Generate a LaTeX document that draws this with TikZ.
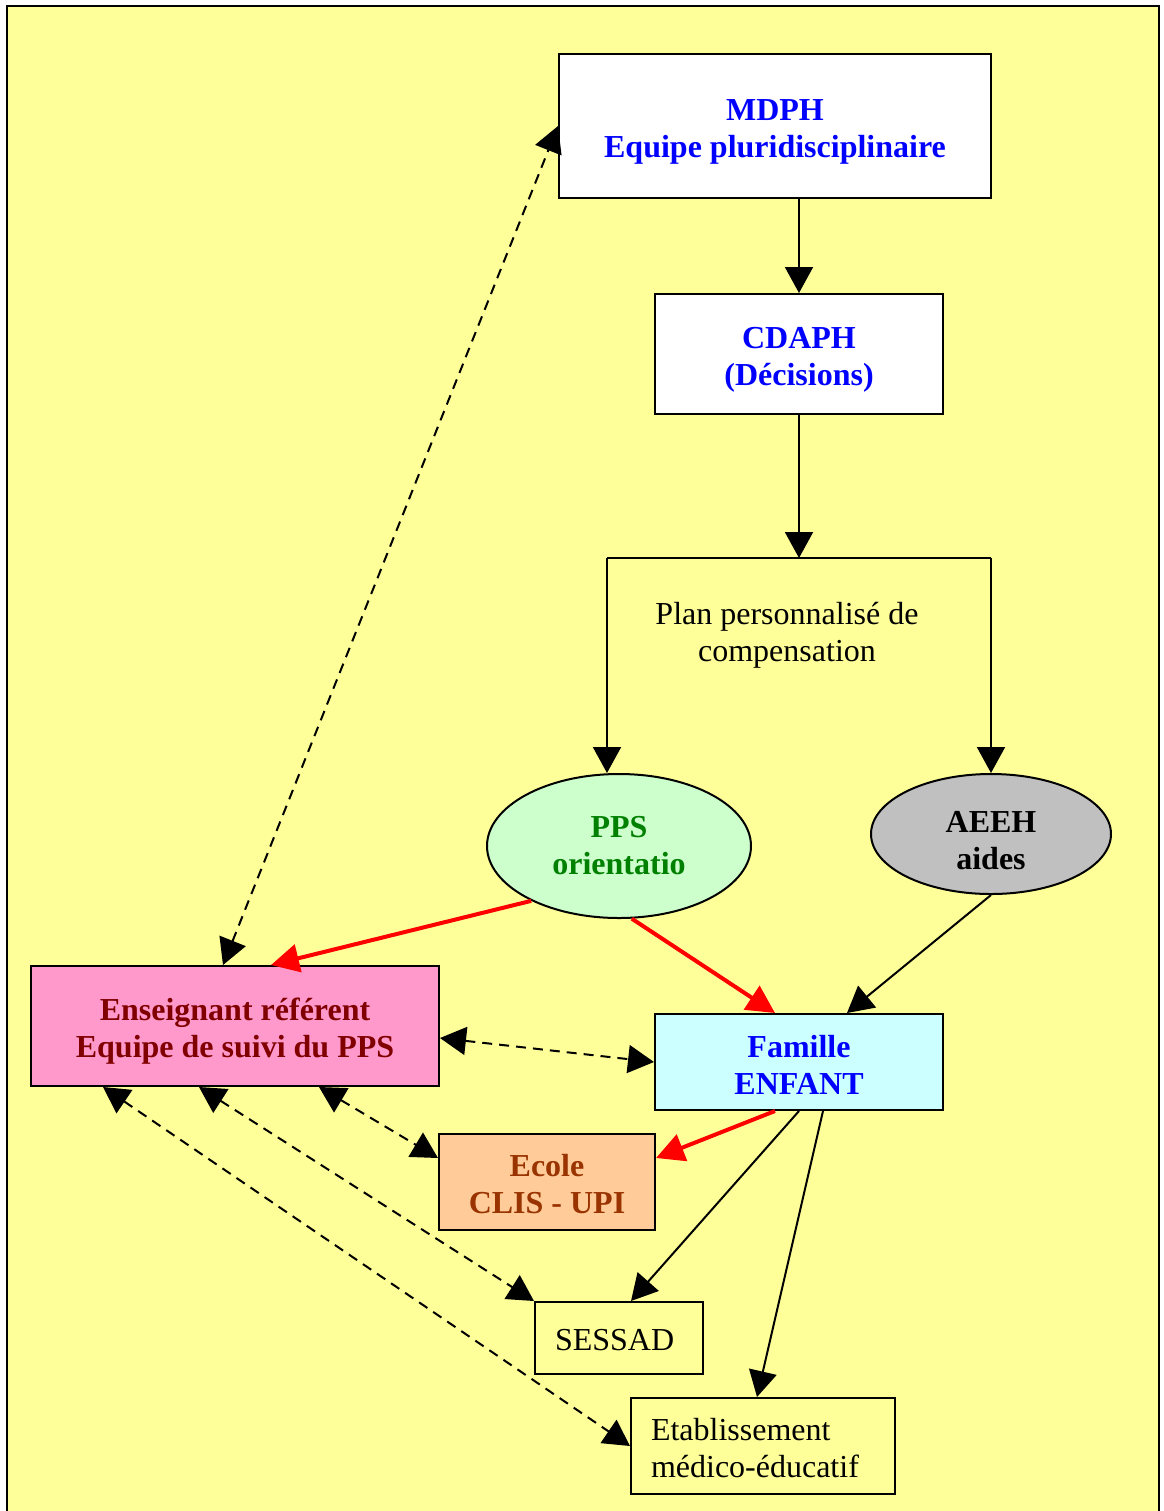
\documentclass[tikz,border=0pt]{standalone}
\usepackage{fontspec}
\setmainfont{Liberation Serif}
\usetikzlibrary{arrows.meta,shapes.geometric}
\definecolor{fond}{HTML}{FFFF99}
\definecolor{rose}{HTML}{FF99CC}
\definecolor{cyanc}{HTML}{CCFFFF}
\definecolor{orangec}{HTML}{FFCC99}
\definecolor{vertc}{HTML}{CCFFCC}
\definecolor{gris}{HTML}{C0C0C0}
\definecolor{bleu}{HTML}{0000FF}
\definecolor{bordeaux}{HTML}{800000}
\definecolor{brun}{HTML}{993300}
\definecolor{vert}{HTML}{008000}
\begin{document}
\begin{tikzpicture}[x=0.5pt,y=-0.5pt,
  boite/.style={draw,line width=1pt,inner sep=0pt,align=center,font=\fontsize{16}{18.5}\selectfont\bfseries},
  haut/.style={execute at begin node={\rule{0pt}{#1}}},
  ovale/.style={boite,ellipse},
  cadre/.style={boite,inner xsep=10pt,align=left,font=\fontsize{16}{18.5}\selectfont},
  fl/.style={line width=1pt,-{Triangle[length=13pt,width=14pt]}},
  fld/.style={line width=1pt,dash pattern=on 5pt off 3.5pt,{Triangle[length=13pt,width=14pt]}-{Triangle[length=13pt,width=14pt]}},
  flr/.style={line width=2pt,red,-{Triangle[length=14pt,width=14pt]}}]
\useasboundingbox(0,0)rectangle(1163,1511);
\fill[white](0,0)rectangle(1163,1511);
\draw[line width=1.2pt,fill=fond](7,6)rectangle(1159,1540);
%
\node[boite,haut=34.5pt,fill=white,text=bleu,minimum width=216pt,minimum height=72pt](mdph)at(775,126){MDPH\\Equipe pluridisciplinaire};
\node[boite,haut=34.5pt,fill=white,text=bleu,minimum width=144pt,minimum height=60pt](cdaph)at(799,354){CDAPH\\(Décisions)};
\coordinate(split)at(799,558);
\coordinate(bg)at(607,558);
\coordinate(bd)at(991,558);
\node[font=\fontsize{16}{18.5}\selectfont,align=center](plan)at(787,635){Plan personnalisé de\\compensation};
\node[ovale,fill=vertc,text=vert,minimum width=132pt,minimum height=72pt](pps)at(619,846){PPS\\orientatio};
\node[ovale,haut=36pt,fill=gris,minimum width=120pt,minimum height=60pt](aeeh)at(991,834){AEEH\\aides};
\node[boite,haut=34.5pt,fill=rose,text=bordeaux,minimum width=204pt,minimum height=60pt](ens)at(235,1026){Enseignant référent\\Equipe de suivi du PPS};
\node[boite,haut=32pt,fill=cyanc,text=bleu,minimum width=144pt,minimum height=48pt](fam)at(799,1062){Famille\\ENFANT};
\node[boite,haut=32pt,fill=orangec,text=brun,minimum width=108pt,minimum height=48pt](ecole)at(547,1182){Ecole\\CLIS - UPI};
\node[cadre,haut=12.6pt,text width=64pt,minimum height=36pt](sessad)at(619,1338){SESSAD};
\node[cadre,haut=12.9pt,text width=112pt,minimum height=48pt](etab)at(763,1446){Etablissement\\médico-éducatif};
%
\draw[fl](mdph.south-|split)--(cdaph.north);
\draw[fl](cdaph.south)--(split);
\draw[line width=1pt](bg)--(bd);
\draw[fl](bg)--(bg|-pps.north);
\draw[fl](bd)--(aeeh.north);
\draw[fld]([xshift=-6pt]ens.north)--(mdph.west);
\draw[flr](pps.212)--([xshift=120.5pt]ens.north west);
\draw[flr](pps.280)--([xshift=-12pt]fam.north);
\draw[fl](aeeh.south)--([xshift=24pt]fam.north);
\draw[fld]([yshift=-6pt]ens.east)--(fam.west);
\draw[fld]([xshift=42pt]ens.south)--([yshift=12pt]ecole.west);
\draw[fld]([xshift=-18pt]ens.south)--(sessad.north west);
\draw[fld]([xshift=-66pt]ens.south)--(etab.west);
\draw[flr]([xshift=-12pt]fam.south)--([yshift=12pt]ecole.east);
\draw[fl](fam.south)--([xshift=6pt]sessad.north);
\draw[fl]([xshift=12pt]fam.south)--([xshift=-3pt]etab.north);
\end{tikzpicture}
\end{document}
